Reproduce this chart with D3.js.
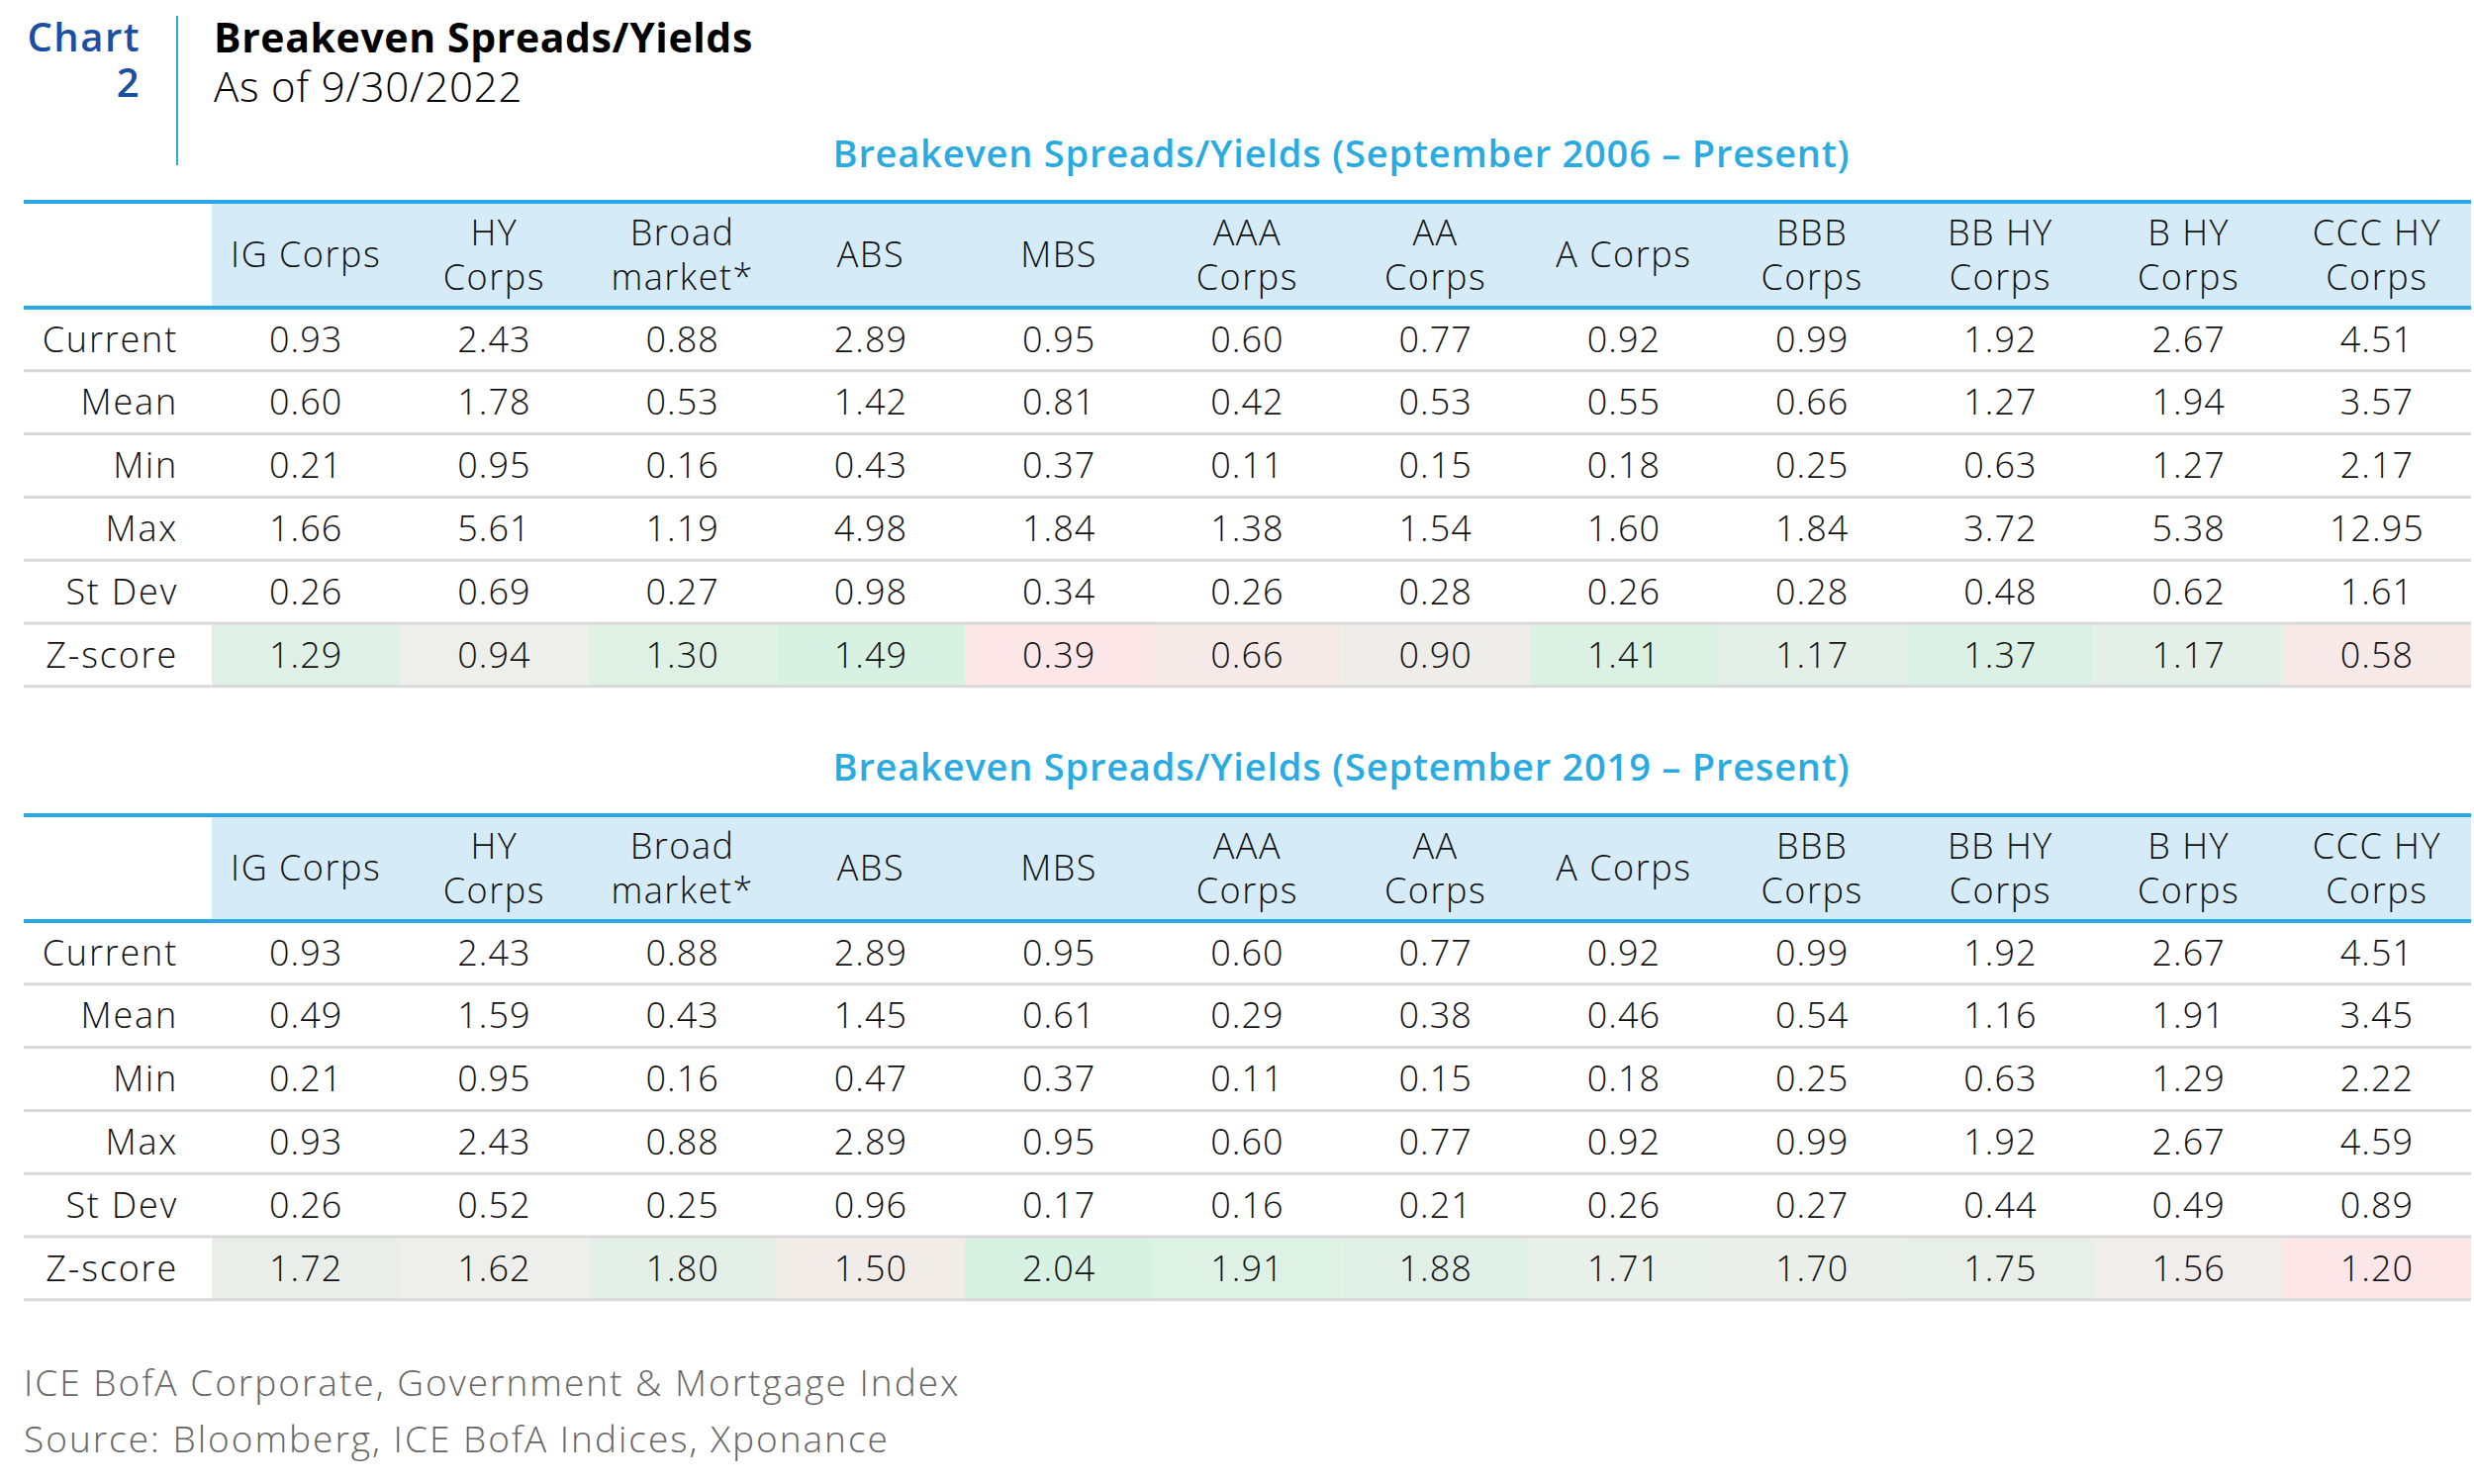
<!doctype html>
<html>
<head>
<meta charset="utf-8">
<style>
    body { margin: 0; background: #fff; }
    text { font-family: "Open Sans", "Lato", sans-serif; }
</style>
</head>
<body>
<div id="chart"></div>
<script src="https://d3js.org/d3.v7.min.js"></script>
<script>

// ---- data ----
var headerLines = [["IG Corps"], ["HY", "Corps"], ["Broad", "market*"], ["ABS"], ["MBS"],
    ["AAA", "Corps"], ["AA", "Corps"], ["A Corps"], ["BBB", "Corps"], ["BB HY", "Corps"],
    ["B HY", "Corps"], ["CCC HY", "Corps"]];
var rowLabels = ["Current", "Mean", "Min", "Max", "St Dev", "Z-score"];

// Sept 2006 - present
var current1 = [0.93, 2.43, 0.88, 2.89, 0.95, 0.60, 0.77, 0.92, 0.99, 1.92, 2.67, 4.51];
var mean1    = [0.60, 1.78, 0.53, 1.42, 0.81, 0.42, 0.53, 0.55, 0.66, 1.27, 1.94, 3.57];
var min1     = [0.21, 0.95, 0.16, 0.43, 0.37, 0.11, 0.15, 0.18, 0.25, 0.63, 1.27, 2.17];
var max1     = [1.66, 5.61, 1.19, 4.98, 1.84, 1.38, 1.54, 1.60, 1.84, 3.72, 5.38, 12.95];
var sd1      = [0.26, 0.69, 0.27, 0.98, 0.34, 0.26, 0.28, 0.26, 0.28, 0.48, 0.62, 1.61];
var z1       = [1.29, 0.94, 1.30, 1.49, 0.39, 0.66, 0.90, 1.41, 1.17, 1.37, 1.17, 0.58];

// Sept 2019 - present
var current2 = [0.93, 2.43, 0.88, 2.89, 0.95, 0.60, 0.77, 0.92, 0.99, 1.92, 2.67, 4.51];
var mean2    = [0.49, 1.59, 0.43, 1.45, 0.61, 0.29, 0.38, 0.46, 0.54, 1.16, 1.91, 3.45];
var min2     = [0.21, 0.95, 0.16, 0.47, 0.37, 0.11, 0.15, 0.18, 0.25, 0.63, 1.29, 2.22];
var max2     = [0.93, 2.43, 0.88, 2.89, 0.95, 0.60, 0.77, 0.92, 0.99, 1.92, 2.67, 4.59];
var sd2      = [0.26, 0.52, 0.25, 0.96, 0.17, 0.16, 0.21, 0.26, 0.27, 0.44, 0.49, 0.89];
var z2       = [1.72, 1.62, 1.80, 1.50, 2.04, 1.91, 1.88, 1.71, 1.70, 1.75, 1.56, 1.20];

var width = 2500, height = 1500;
var tableLeft = 24, tableRight = 2497, labelRight = 214;
var headerH = 107, rowH = 63.8;

var svg = d3.select("#chart").append("svg")
    .attr("width", width)
    .attr("height", height);

// title block
var chartNo = svg.append("text")
    .attr("text-anchor", "end")
    .attr("font-size", "40px").attr("font-weight", 600)
    .attr("letter-spacing", "1.5px")
    .attr("fill", "#1c4fa3");
chartNo.append("tspan").attr("x", 142).attr("y", 52).text("Chart");
chartNo.append("tspan").attr("x", 142).attr("y", 98).text("2");

svg.append("line")
    .attr("x1", 179).attr("x2", 179)
    .attr("y1", 16).attr("y2", 167)
    .attr("stroke", "#2ba8e4").attr("stroke-width", 2);
svg.append("text")
    .attr("x", 216).attr("y", 53)
    .attr("font-size", "41px").attr("font-weight", 700)
    .attr("letter-spacing", "0.6px")
    .attr("fill", "#000")
    .text("Breakeven Spreads/Yields");
svg.append("text")
    .attr("x", 216).attr("y", 103)
    .attr("font-size", "42px").attr("font-weight", 300)
    .attr("letter-spacing", "0.8px")
    .attr("fill", "#000")
    .text("As of 9/30/2022");

var x = d3.scaleBand()
    .domain(d3.range(headerLines.length))
    .range([labelRight, tableRight]);

function drawTable(top, subtitle, rows, z) {
    var g = svg.append("g");
    var y = d3.scaleBand()
        .domain(rowLabels)
        .range([top + headerH, top + headerH + rowH * rowLabels.length]);

    g.append("text")
        .attr("x", (labelRight + tableRight) / 2)
        .attr("y", top - 35)
        .attr("text-anchor", "middle")
        .attr("font-size", "38px").attr("font-weight", 600)
        .attr("letter-spacing", "0.8px")
        .attr("fill", "#29abe2")
        .text(subtitle);

    // header fill
    g.append("rect")
        .attr("x", labelRight).attr("y", top)
        .attr("width", tableRight - labelRight).attr("height", headerH)
        .attr("fill", "#d5ebf8");

    // z-score cell fills
    var color = d3.scaleLinear()
        .domain([d3.min(z), (d3.min(z) + d3.max(z)) / 2, d3.max(z)])
        .range(["#fde6e8", "#eeeeea", "#d7f2e3"]);
    g.selectAll(".zcell")
        .data(z)
        .enter().append("rect")
        .attr("class", "zcell")
        .attr("x", function(d, i) { return x(i); })
        .attr("y", y("Z-score"))
        .attr("width", x.bandwidth())
        .attr("height", y.bandwidth())
        .attr("fill", function(d) { return color(d); });

    // header text
    headerLines.forEach(function(lines, i) {
        var t = g.append("text")
            .attr("text-anchor", "middle")
            .attr("font-size", "36px").attr("font-weight", 300)
            .attr("letter-spacing", "1.5px")
            .attr("fill", "#111");
        var cy = top + headerH / 2;
        lines.forEach(function(s, k) {
            t.append("tspan")
                .attr("x", x(i) + x.bandwidth() / 2)
                .attr("y", cy + (k - (lines.length - 1) / 2) * 45)
                .attr("dy", "0.35em")
                .text(s);
        });
    });

    // row lines
    rowLabels.forEach(function(r, k) {
        g.append("line")
            .attr("x1", tableLeft).attr("x2", tableRight)
            .attr("y1", y(r) + y.bandwidth()).attr("y2", y(r) + y.bandwidth())
            .attr("stroke", "#d9d9d9").attr("stroke-width", 3);
    });

    // blue lines
    [top, top + headerH].forEach(function(yy) {
        g.append("line")
            .attr("x1", tableLeft).attr("x2", tableRight)
            .attr("y1", yy).attr("y2", yy)
            .attr("stroke", "#2ba8e4").attr("stroke-width", 4);
    });

    // row labels
    g.selectAll(".rlabel")
        .data(rowLabels)
        .enter().append("text")
        .attr("x", 180)
        .attr("y", function(d) { return y(d) + y.bandwidth() / 2; })
        .attr("dy", "0.35em")
        .attr("text-anchor", "end")
        .attr("font-size", "36px").attr("font-weight", 300)
        .attr("letter-spacing", "1.8px")
        .attr("fill", "#111")
        .text(function(d) { return d; });

    // values
    rows.forEach(function(vals, k) {
        g.selectAll(".v" + k)
            .data(vals)
            .enter().append("text")
            .attr("x", function(d, i) { return x(i) + x.bandwidth() / 2; })
            .attr("y", y(rowLabels[k]) + y.bandwidth() / 2)
            .attr("dy", "0.35em")
            .attr("text-anchor", "middle")
            .attr("font-size", "36px").attr("font-weight", 300)
            .attr("letter-spacing", "1px")
            .attr("fill", "#111")
            .text(function(d) { return d.toFixed(2); });
    });
}

drawTable(204, "Breakeven Spreads/Yields (September 2006 \u2013 Present)",
    [current1, mean1, min1, max1, sd1, z1], z1);
drawTable(824, "Breakeven Spreads/Yields (September 2019 \u2013 Present)",
    [current2, mean2, min2, max2, sd2, z2], z2);

// footnotes
svg.append("text")
    .attr("x", 24).attr("y", 1411)
    .attr("font-size", "37px").attr("font-weight", 300)
    .attr("letter-spacing", "2px")
    .attr("fill", "#666")
    .text("ICE BofA Corporate, Government & Mortgage Index");
svg.append("text")
    .attr("x", 24).attr("y", 1468)
    .attr("font-size", "37px").attr("font-weight", 300)
    .attr("letter-spacing", "2px")
    .attr("fill", "#666")
    .text("Source: Bloomberg, ICE BofA Indices, Xponance");

</script>
</body>
</html>
